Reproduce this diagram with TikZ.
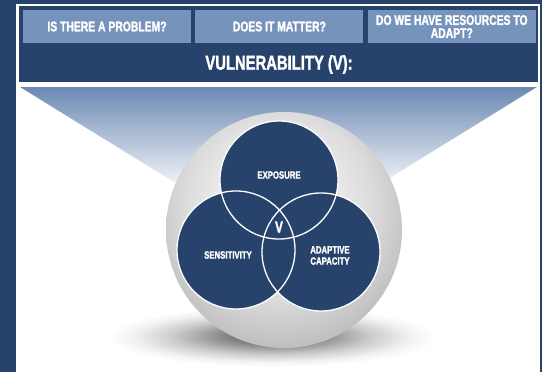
\documentclass[tikz,border=0pt]{standalone}
\usepackage{fontspec}
\newfontfamily\headfont{Liberation Sans Bold}[FakeStretch=0.74, FakeBold=1.6]
\usetikzlibrary{positioning}

\definecolor{navy}{HTML}{27436B}
\definecolor{steel}{HTML}{7593BB}
\definecolor{haze}{HTML}{6C89B3}

\pgfdeclareradialshading{sphere}{\pgfqpoint{-2bp}{9bp}}{color(0bp)=(white!97!black); color(9bp)=(white!94!black); color(20bp)=(white!86!black); color(27bp)=(white!77!black); color(36bp)=(white!67!black); color(50bp)=(white!63!black)}
\pgfdeclareradialshading{shadow}{\pgfqpoint{0bp}{2bp}}{color(0bp)=(black!62); color(7bp)=(black!48); color(15bp)=(black!20); color(21bp)=(black!5); color(25bp)=(white); color(50bp)=(white)}

\begin{document}
\begin{tikzpicture}[x=1pt, y=-1pt,
    question/.style={fill=steel, text=white, minimum width=168pt, minimum height=33pt, inner sep=0pt, align=center, font=\headfont\fontsize{14}{13}\selectfont},
    venn/.style={circle, fill=navy, minimum size=118pt, inner sep=0pt},
    rim/.style={white, line width=1.3pt},
    tag/.style={text=white, align=center, font=\headfont\fontsize{10.5}{11.2}\selectfont}]
    \fill[navy] (0,0) rectangle (542,372);
    \fill[white] (16,4) rectangle (540,372);
    \fill[navy] (19,6) rectangle (538,82);
    \node[question] (problem) at (107,26.5) {IS THERE A PROBLEM?};
    \node[question, right=4pt of problem] (matter) {DOES IT MATTER?};
    \node[question, right=4pt of matter] (resources) {DO WE HAVE RESOURCES TO\\ADAPT?};
    \node[text=white, font=\headfont\fontsize{20}{24}\selectfont] (title) at (279,64.5) {VULNERABILITY (V):};
    \shade[top color=haze, bottom color=white] (20,87) -- (537,87) -- (362,195) -- (195,195) -- cycle;
    \shade[shading=shadow] (272,338) ellipse (165pt and 30pt);
    \shade[shading=sphere] (284,230) circle (118pt);
    \node[venn] (exposure) at (279,180) {};
    \node[venn] (sensitivity) at (236,250) {};
    \node[venn] (capacity) at (321,252) {};
    \foreach \c in {exposure,sensitivity,capacity}
        \draw[rim] (\c.center) circle (59pt);
    \node[tag] (exposure-text) at (279,175) {EXPOSURE};
    \node[tag] (sensitivity-text) at (228,255) {SENSITIVITY};
    \node[tag] (capacity-text) at (330,255.5) {ADAPTIVE\\CAPACITY};
    \node[tag, font=\headfont\fontsize{16}{16}\selectfont] (v) at (279,227) {V};
\end{tikzpicture}
\end{document}
